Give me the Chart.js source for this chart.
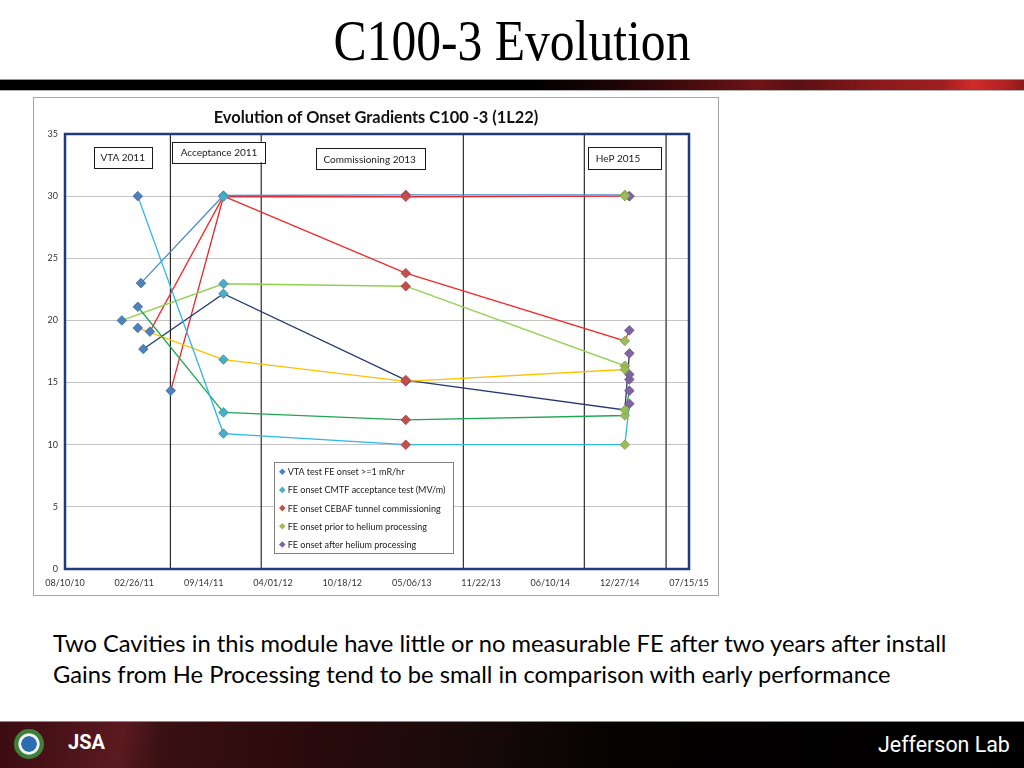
<!DOCTYPE html>
<html>
<head>
<meta charset="utf-8">
<script src="https://cdn.jsdelivr.net/npm/chart.js@4.4.1/dist/chart.umd.min.js"></script>
<style>
  html, body { margin: 0; padding: 0; width: 1024px; height: 768px; overflow: hidden; background: #fff; }
  #slide { position: relative; width: 1024px; height: 768px; background: #fff; }
  #title { position: absolute; top: 20px; left: 0; width: 1024px; text-align: center; }
  #title span { display: inline-block; font-family: "Liberation Serif", "DejaVu Serif", serif; font-size: 50px; color: #000; line-height: 1; transform: scaleY(1.15); transform-origin: 50% 100%; }
  #bar { position: absolute; left: 0; top: 79px; width: 1024px; height: 10px;
    background: linear-gradient(90deg, #000 0%, #000 52%, #1e0405 60%, #4a0c0e 68%, #6e1416 74%, #5a1012 78%, #8a1a1c 86%, #9e1e20 92%, #d22a2a 95%, #b42224 98%, #8c1a1c 100%); border-top: 1px solid #9a9a9a; border-bottom: 1px solid #b0b0b0; }
  #chartBox { position: absolute; left: 33px; top: 97px; width: 686px; height: 499px; box-sizing: border-box; border: 1px solid #a6a6a6; background: #fff; }
  #note { position: absolute; left: 53px; top: 628px; font-family: Lato, "Open Sans", sans-serif; color: #000; }
  #note div { white-space: nowrap; height: 31px; line-height: 30px; }
  #note span { display: inline-block; line-height: 30px; }
  #footer { position: absolute; left: 0; top: 721px; width: 1024px; height: 47px; border-top: 1px solid #8a8a8a;
    background: linear-gradient(100deg, #3a0c10 0%, #5a1a20 12%, #3a1012 16%, #2a0a0c 30%, #1a0a0a 45%, #050202 60%, #000 100%); }
  #jlab { position: absolute; left: 878px; top: 734px; font-family: "Liberation Sans Narrow", "Roboto", sans-serif; color: #fff; font-size: 22px; line-height: 1; white-space: nowrap; }
  #jsa { position: absolute; left: 68px; top: 732px; font-family: "Liberation Sans Narrow", "Roboto", sans-serif; color: #fff; font-size: 20px; font-weight: bold; line-height: 1; }
  #doe { position: absolute; left: 14px; top: 729px; width: 30px; height: 30px; border-radius: 50%; background: radial-gradient(circle, #2a6db0 0%, #2a6db0 35%, #f2f2f2 38%, #f2f2f2 48%, #3f7f3a 52%, #3f7f3a 70%, #c9a43a 74%, #c9a43a 100%); }
</style>
</head>
<body>
<div id="slide">
  <div id="title"><span id="titleText">C100-3 Evolution</span></div>
  <div id="bar"></div>
  <div id="chartBox"><canvas id="c"></canvas></div>
  <div id="note">
    <div><span id="note1">Two Cavities in this module have little or no measurable FE after two years after install</span></div>
    <div><span id="note2">Gains from He Processing tend to be small in comparison with early performance</span></div>
  </div>
  <div id="footer"></div>
  <div id="doe"></div>
  <div id="jsa">JSA</div>
  <div id="jlab">Jefferson Lab</div>
</div>
<script>
// ---------------- DATA ----------------
const chartTitle = 'Evolution of Onset Gradients C100 -3 (1L22)';
const seriesNames = [
  'VTA test FE onset >=1 mR/hr',
  'FE onset CMTF acceptance test (MV/m)',
  'FE onset CEBAF tunnel commissioning',
  'FE onset prior to helium processing',
  'FE onset after helium processing'
];
// cavities (one line each): cyan, blue, green, light green, yellow, red A, navy, red B
const vtaDates        = ['03/08/11','03/17/11','03/08/11','01/21/11','03/08/11','04/12/11','03/24/11','06/11/11'];
const vtaValues       = [30.0, 23.0, 21.1, 20.0, 19.4, 19.1, 17.7, 14.35];
const acceptanceDate  = '11/10/11';
const acceptanceValues= [10.9, 30.05, 12.6, 22.95, 16.85, 30.0, 22.15, 29.95];
const commissionDate  = '04/19/13';
const commissionValues= [10.0, 30.1, 12.0, 22.75, 15.1, 23.8, 15.2, 29.95];
const priorDate       = '01/11/15';
const priorValues     = [10.0, 30.1, 12.35, 16.35, 16.05, 18.35, 12.8, 30.0];
const afterDate       = '01/24/15';
const afterValues     = [13.3, 30.0, 14.35, 15.25, 15.65, 19.2, 17.35, 30.0];
const phaseBoundaries = ['06/10/11','02/27/12','10/02/13','09/16/14','05/10/15'];
const phaseLabels     = ['VTA 2011','Acceptance 2011','Commissioning 2013','HeP 2015'];
const xMinDate = '08/10/10', xMaxDate = '07/15/15', xStepDays = 200;
const yMin = 0, yMax = 35, yStep = 5;

// ---------------- STYLE ----------------
const seriesColors = ['#4F81BD', '#4BACC6', '#C0504D', '#9BBB59', '#8064A2'];
const seriesBorders = ['#3d6a9e', '#3a93ab', '#a33f3c', '#84a048', '#6a5189'];
const cavityColors = ['#2DB6E6', '#4A8CCD', '#1FA653', '#92D050', '#FFC000', '#F22A2A', '#22386E', '#E8262C'];

function toDay(s) {
  const [m, d, y] = s.split('/').map(Number);
  return Date.UTC(2000 + y, m - 1, d) / 86400000;
}
function fmtDay(v) {
  const dt = new Date(Math.round(v) * 86400000);
  const p = n => String(n).padStart(2, '0');
  return p(dt.getUTCMonth() + 1) + '/' + p(dt.getUTCDate()) + '/' + p(dt.getUTCFullYear() % 100);
}

function fit(el, target) {
  const w = el.getBoundingClientRect().width;
  const fs = parseFloat(getComputedStyle(el).fontSize);
  el.style.fontSize = (fs * target / w) + 'px';
}
fit(document.getElementById('titleText'), 357);
fit(document.getElementById('note1'), 894);
document.getElementById('note2').style.fontSize = document.getElementById('note1').style.fontSize;
fit(document.getElementById('jlab'), 132);

// ---------------- DATASETS ----------------
const perSeries = [
  vtaValues.map((v, i) => ({ x: toDay(vtaDates[i]), y: v })),
  acceptanceValues.map(v => ({ x: toDay(acceptanceDate), y: v })),
  commissionValues.map(v => ({ x: toDay(commissionDate), y: v })),
  priorValues.map(v => ({ x: toDay(priorDate), y: v })),
  afterValues.map(v => ({ x: toDay(afterDate), y: v }))
];
const datasets = [];
perSeries.forEach((pts, s) => {
  datasets.push({
    label: seriesNames[s], data: pts, showLine: false, order: 0,
    pointStyle: 'rectRot', pointRadius: 4.8, pointHoverRadius: 4.8,
    backgroundColor: seriesColors[s], borderColor: seriesBorders[s], borderWidth: 0.8
  });
});
cavityColors.forEach((col, i) => {
  datasets.push({
    label: 'cavity ' + (i + 1),
    data: perSeries.map(pts => pts[i]),
    showLine: true, order: 1, pointRadius: 0, borderColor: col, borderWidth: 1.3,
    backgroundColor: col, fill: false, tension: 0
  });
});
phaseBoundaries.forEach((d, i) => {
  datasets.push({
    label: 'phase ' + i,
    data: [{ x: toDay(d), y: yMin }, { x: toDay(d), y: yMax }],
    showLine: true, order: 2, pointRadius: 0,
    borderColor: i === phaseBoundaries.length - 1 ? '#5a5a5a' : '#1a1a1a',
    borderWidth: i === phaseBoundaries.length - 1 ? 1.6 : 1.1
  });
});

// ---------------- PLUGINS ----------------
const decor = {
  id: 'decor',
  afterDatasetsDraw(chart) {
    const ctx = chart.ctx, a = chart.chartArea;
    ctx.save();
    ctx.strokeStyle = '#1F3B7D';
    ctx.lineWidth = 2.5;
    ctx.strokeRect(a.left, a.top, a.right - a.left, a.bottom - a.top);
    const boxes = [
      { dx: 28.7, dy: 12.7, w: 58, h: 20.6, center: true },
      { dx: 107.3, dy: 7.7, w: 93.4, h: 20.6, center: true },
      { dx: 251, dy: 14.3, w: 109, h: 21, center: false },
      { dx: 523.3, dy: 13, w: 72.7, h: 22.3, center: false }
    ];
    ctx.font = '10px Lato, "Open Sans", sans-serif';
    ctx.textBaseline = 'middle';
    boxes.forEach((b, i) => {
      const x = a.left + b.dx, y = a.top + b.dy;
      ctx.fillStyle = '#fff';
      ctx.fillRect(x, y, b.w, b.h);
      ctx.strokeStyle = '#1a1a1a';
      ctx.lineWidth = 1;
      ctx.strokeRect(Math.round(x) + 0.5, Math.round(y) + 0.5, Math.round(b.w), Math.round(b.h));
      ctx.fillStyle = '#1a1a1a';
      ctx.textAlign = b.center ? 'center' : 'left';
      ctx.fillText(phaseLabels[i], b.center ? x + b.w / 2 : x + 7.5, y + b.h / 2 + 0.5);
    });
    const lx = a.left + 208.7, ly = a.top + 328.3, lw = 179, lh = 91;
    ctx.fillStyle = '#fff';
    ctx.fillRect(lx, ly, lw, lh);
    ctx.strokeStyle = '#7f7f7f';
    ctx.lineWidth = 1;
    ctx.strokeRect(Math.round(lx) + 0.5, Math.round(ly) + 0.5, lw, lh);
    ctx.font = '9px Lato, "Open Sans", sans-serif';
    ctx.textAlign = 'left';
    seriesNames.forEach((n, s) => {
      const cy = ly + 9.4 + s * 18.2;
      const mx = lx + 8.6;
      ctx.beginPath();
      ctx.moveTo(mx, cy - 3.3); ctx.lineTo(mx + 3.3, cy); ctx.lineTo(mx, cy + 3.3); ctx.lineTo(mx - 3.3, cy); ctx.closePath();
      ctx.fillStyle = seriesColors[s];
      ctx.fill();
      ctx.fillStyle = '#1a1a1a';
      ctx.fillText(n, lx + 14, cy + 0.5);
    });
    ctx.font = 'bold 16.4px Lato, "Open Sans", sans-serif';
    ctx.textAlign = 'center';
    ctx.fillStyle = '#111';
    ctx.fillText(chartTitle, chart.width / 2, 19.5);
    ctx.restore();
  }
};

new Chart(document.getElementById('c'), {
  type: 'scatter',
  data: { datasets },
  options: {
    responsive: true, maintainAspectRatio: false, animation: false,
    layout: { padding: { top: 36, right: 29, left: 0, bottom: 0 } },
    plugins: { legend: { display: false }, tooltip: { enabled: false }, title: { display: false } },
    scales: {
      x: {
        type: 'linear', min: toDay(xMinDate), max: toDay(xMaxDate),
        afterFit: s => { s.height = 26; },
        grid: { display: false }, border: { display: false },
        ticks: { stepSize: xStepDays, autoSkip: false, maxRotation: 0, padding: 1,
          color: '#333', font: { family: 'Lato, "Open Sans", sans-serif', size: 9 },
          callback: v => fmtDay(v) }
      },
      y: {
        min: yMin, max: yMax,
        afterFit: s => { s.width = 31; },
        grid: { color: '#c4c4c4', lineWidth: 1, drawTicks: false }, border: { display: false },
        ticks: { stepSize: yStep, padding: 7, color: '#333', font: { family: 'Lato, "Open Sans", sans-serif', size: 9 } }
      }
    }
  },
  plugins: [decor]
});
</script>
</body>
</html>
